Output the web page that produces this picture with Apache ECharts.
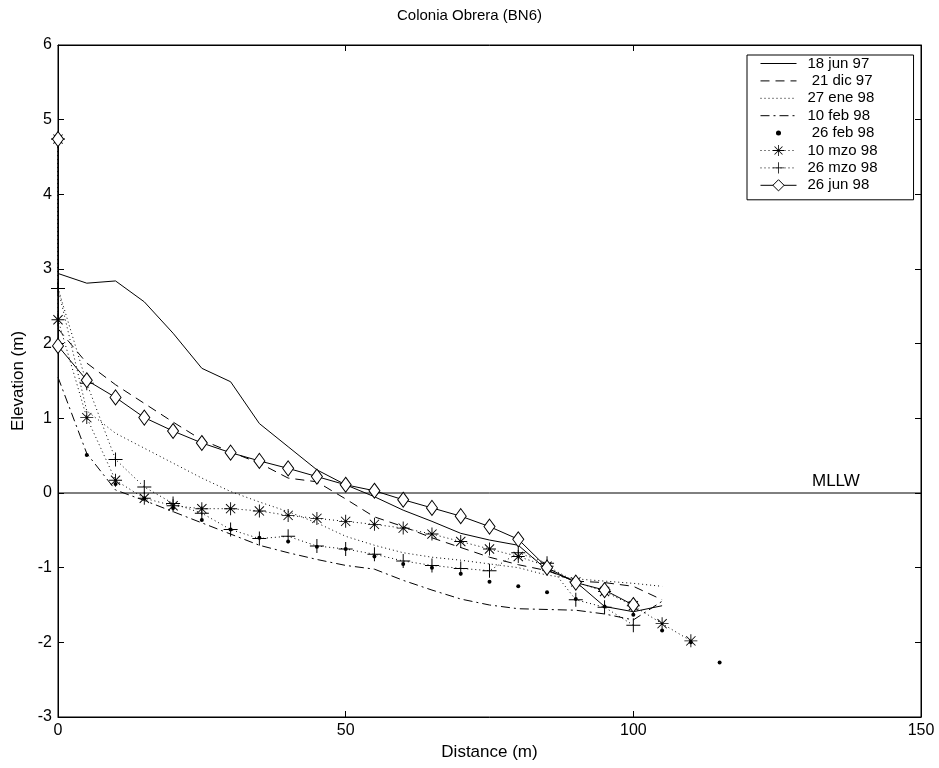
<!DOCTYPE html>
<html>
<head>
<meta charset="utf-8">
<script src="https://cdn.jsdelivr.net/npm/echarts@6/dist/echarts.min.js"></script>
<style>
  html, body { margin: 0; padding: 0; background: #ffffff; }
  #chart { width: 939px; height: 768px; }
</style>
</head>
<body>
<div id="chart"></div>
<script>
// Beach profile surveys, Colonia Obrera (BN6): distance along profile (m) vs elevation (m)
const xTicks = [0, 50, 100, 150];
const yTicks = [-3, -2, -1, 0, 1, 2, 3, 4, 5, 6];

const dist_18jun97 = [0, 5, 10, 15, 20, 25, 30, 35, 40, 45, 50, 55, 60, 65, 70, 75, 80, 85, 90, 95, 100, 105];
const elev_18jun97 = [2.94, 2.81, 2.84, 2.56, 2.14, 1.67, 1.49, 0.93, 0.62, 0.31, 0.11, -0.05, -0.23, -0.38, -0.54, -0.63, -0.70, -1.03, -1.19, -1.52, -1.59, -1.51];

const dist_21dic97 = [0, 5, 10, 15, 20, 25, 30, 35, 40, 45, 50, 55, 60, 65, 70, 75, 80, 85, 90, 95, 100, 105];
const elev_21dic97 = [2.2, 1.74, 1.45, 1.2, 0.95, 0.71, 0.55, 0.40, 0.2, 0.15, -0.08, -0.32, -0.45, -0.6, -0.73, -0.86, -0.96, -1.04, -1.18, -1.2, -1.25, -1.43];

const dist_27ene98 = [0, 5, 10, 15, 20, 25, 30, 35, 40, 45, 50, 55, 60, 65, 70, 75, 80, 85, 90, 95, 100, 105];
const elev_27ene98 = [2.74, 1.1, 0.8, 0.6, 0.4, 0.2, 0.02, -0.12, -0.25, -0.4, -0.58, -0.7, -0.8, -0.86, -0.9, -0.95, -1.0, -1.1, -1.15, -1.18, -1.21, -1.25];

const dist_10feb98 = [0, 5, 10, 15, 20, 25, 30, 35, 40, 45, 50, 55, 60, 65, 70, 75, 80, 85, 90, 95, 100, 105];
const elev_10feb98 = [1.55, 0.53, 0.04, -0.1, -0.25, -0.40, -0.55, -0.70, -0.8, -0.89, -0.97, -1.02, -1.17, -1.3, -1.42, -1.5, -1.55, -1.56, -1.57, -1.62, -1.70, -1.45];

const dist_26feb98 = [0, 5, 10, 15, 20, 25, 30, 35, 40, 45, 50, 55, 60, 65, 70, 75, 80, 85, 90, 95, 100, 105, 110, 115];
const elev_26feb98 = [4.74, 0.51, 0.12, -0.07, -0.2, -0.36, -0.49, -0.6, -0.65, -0.72, -0.75, -0.85, -0.95, -1.0, -1.08, -1.19, -1.25, -1.33, -1.42, -1.52, -1.63, -1.84, -2.0, -2.27];

const dist_10mzo98 = [0, 0, 5, 10, 15, 20, 25, 30, 35, 40, 45, 50, 55, 60, 65, 70, 75, 80, 85, 90, 95, 100, 105, 110];
const elev_10mzo98 = [4.74, 2.32, 1.01, 0.17, -0.07, -0.17, -0.21, -0.21, -0.24, -0.30, -0.34, -0.38, -0.42, -0.47, -0.55, -0.65, -0.75, -0.85, -0.98, -1.19, -1.32, -1.51, -1.75, -1.98];

const dist_26mzo98 = [0, 0, 5, 10, 15, 20, 25, 30, 35, 40, 45, 50, 55, 60, 65, 70, 75, 80, 85, 90, 95, 100];
const elev_26mzo98 = [4.74, 2.74, 1.47, 0.45, 0.08, -0.14, -0.27, -0.49, -0.61, -0.58, -0.71, -0.75, -0.82, -0.91, -0.97, -1.01, -1.04, -0.80, -0.94, -1.43, -1.53, -1.77];

const dist_26jun98 = [0, 0, 5, 10, 15, 20, 25, 30, 35, 40, 45, 50, 55, 60, 65, 70, 75, 80, 85, 90, 95, 100];
const elev_26jun98 = [4.74, 1.97, 1.51, 1.28, 1.01, 0.83, 0.67, 0.54, 0.43, 0.33, 0.22, 0.11, 0.03, -0.09, -0.2, -0.31, -0.45, -0.62, -1.0, -1.20, -1.30, -1.50];

const mllwLevel = 0;

function pairs(xs, ys) { return xs.map((x, i) => [x, ys[i]]); }

// marker outlines built from thin bars so they render as strokes
const PLUS = 'path://M-0.7,-10L0.7,-10L0.7,-0.7L10,-0.7L10,0.7L0.7,0.7L0.7,10L-0.7,10L-0.7,0.7L-10,0.7L-10,-0.7L-0.7,-0.7Z';
const STAR = 'path://M-10,-0.7L10,-0.7L10,0.7L-10,0.7Z M-0.7,-10L0.7,-10L0.7,10L-0.7,10Z ' +
             'M-6.6,-7.6L7.6,6.6L6.6,7.6L-7.6,-6.6Z M-7.6,6.6L6.6,-7.6L7.6,-6.6L-6.6,7.6Z';
// small dot padded with empty corner points so the legend keeps it tiny
const DOT_KEY = 'path://M-10,-10L-10,-10Z M10,10L10,10Z M-3.6,0A3.6,3.6 0 1 1 3.6,0A3.6,3.6 0 1 1 -3.6,0Z';
const NO_MARK = { itemStyle: { color: 'rgba(0,0,0,0)', borderWidth: 0 } };

const ink = '#000000';
const FONT = '"Liberation Sans", Arial, Helvetica, sans-serif';

function lineSeries(name, xs, ys, dash, symbol, symbolSize, extra) {
  return Object.assign({
    name: name,
    type: 'line',
    data: pairs(xs, ys),
    symbol: symbol,
    symbolSize: symbolSize,
    showSymbol: symbol !== 'none',
    animation: false,
    lineStyle: { color: ink, width: 1, type: dash },
    itemStyle: { color: ink, borderColor: ink, borderWidth: 0 },
    emphasis: { disabled: true },
    z: 3
  }, extra || {});
}

const series = [
  lineSeries('18 jun 97', dist_18jun97, elev_18jun97, 'solid', 'none', 0),
  lineSeries(' 21 dic 97', dist_21dic97, elev_21dic97, [9, 6], 'none', 0),
  lineSeries('27 ene 98', dist_27ene98, elev_27ene98, [1, 3], 'none', 0),
  lineSeries('10 feb 98', dist_10feb98, elev_10feb98, [9, 4, 2, 4], 'none', 0),
  lineSeries(' 26 feb 98', dist_26feb98, elev_26feb98, 'solid', 'circle', 4,
    { lineStyle: { width: 0, opacity: 0, color: ink } }),
  lineSeries('10 mzo 98', dist_10mzo98, elev_10mzo98, [1, 3], STAR, 13),
  lineSeries('26 mzo 98', dist_26mzo98, elev_26mzo98, [1, 3], PLUS, 14),
  lineSeries('26 jun 98', dist_26jun98, elev_26jun98, 'solid', 'diamond', [11, 15],
    { itemStyle: { color: '#ffffff', borderColor: ink, borderWidth: 1 } }),
  {
    name: 'MLLW',
    type: 'line',
    data: [[0, mllwLevel], [150, mllwLevel]],
    symbol: 'none',
    animation: false,
    silent: true,
    lineStyle: { color: ink, width: 1 },
    endLabel: {
      show: true, formatter: 'MLLW', color: ink, fontFamily: FONT, fontSize: 17,
      offset: [-117, -12]
    },
    z: 2
  }
];

const axisBase = {
  axisLine: { show: true, onZero: false, lineStyle: { color: ink } },
  axisTick: { show: true, inside: true, length: 6, lineStyle: { color: ink } },
  splitLine: { show: false }
};

const chart = echarts.init(document.getElementById('chart'), null, { renderer: 'canvas' });
chart.setOption({
  backgroundColor: '#ffffff',
  animation: false,
  title: {
    text: 'Colonia Obrera (BN6)',
    left: 'center', top: 3,
    textStyle: { fontFamily: FONT, fontSize: 15, fontWeight: 'normal', color: ink }
  },
  legend: {
    data: [
      Object.assign({ name: '18 jun 97' }, NO_MARK),
      Object.assign({ name: ' 21 dic 97' }, NO_MARK),
      Object.assign({ name: '27 ene 98' }, NO_MARK),
      Object.assign({ name: '10 feb 98' }, NO_MARK),
      { name: ' 26 feb 98', icon: DOT_KEY },
      { name: '10 mzo 98' },
      { name: '26 mzo 98' },
      { name: '26 jun 98', itemStyle: { color: '#ffffff', borderColor: ink, borderWidth: 1 } }
    ],
    orient: 'vertical',
    left: 747, top: 55,
    padding: [0, 36, 6, 13],
    itemWidth: 36, itemHeight: 14, itemGap: 0.4,
    borderColor: ink, borderWidth: 1,
    backgroundColor: '#ffffff',
    selectedMode: false,
    lineStyle: { width: 1 },
    textStyle: { fontFamily: FONT, fontSize: 15, lineHeight: 17, color: ink, padding: [0, 0, 0, 6] }
  },
  grid: { left: 58, right: 18, top: 45, bottom: 51, show: true, borderColor: ink, borderWidth: 1, backgroundColor: '#ffffff' },
  xAxis: [Object.assign({
    type: 'value', min: 0, max: 150, interval: 50,
    name: 'Distance (m)', nameLocation: 'middle', nameGap: 26,
    nameTextStyle: { fontFamily: FONT, fontSize: 17, color: ink },
    axisLabel: { fontFamily: FONT, fontSize: 16, color: ink, margin: 6,
      formatter: v => xTicks.includes(v) ? String(v) : '' }
  }, axisBase), Object.assign({
    type: 'value', min: 0, max: 150, interval: 50, position: 'top',
    axisLabel: { show: false }
  }, axisBase)],
  yAxis: [Object.assign({
    type: 'value', min: -3, max: 6, interval: 1,
    name: 'Elevation (m)', nameLocation: 'middle', nameGap: 31,
    nameTextStyle: { fontFamily: FONT, fontSize: 17, color: ink },
    axisLabel: { fontFamily: FONT, fontSize: 16, color: ink, margin: 6,
      formatter: v => yTicks.includes(v) ? String(v) : '' }
  }, axisBase), Object.assign({
    type: 'value', min: -3, max: 6, interval: 1, position: 'right',
    axisLabel: { show: false }
  }, axisBase)],
  series: series
});
</script>
</body>
</html>
